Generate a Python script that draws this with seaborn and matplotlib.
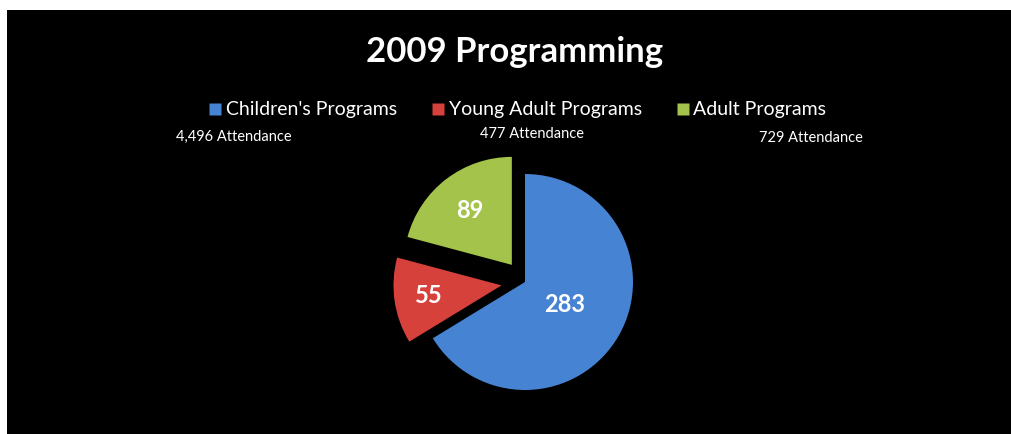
import matplotlib
matplotlib.use("Agg")
import matplotlib.pyplot as plt
from matplotlib.lines import Line2D
import numpy as np
import seaborn as sns

# ---- data ----
categories = ["Children's Programs", "Young Adult Programs", "Adult Programs"]
program_counts = [283, 55, 89]
attendance_labels = ["4,496 Attendance", "477 Attendance", "729 Attendance"]
title = "2009 Programming"

sns.set_style("white")
plt.rcParams['font.family'] = ['Lato', 'DejaVu Sans']

colors = sns.color_palette(["#4683D3", "#D6413C", "#A4C34A"])

W, H = 1011, 434
fig = plt.figure(figsize=(W / 100, H / 100), dpi=100)
fig.patch.set_facecolor("white")
bg = fig.add_axes([7 / W, 0, 1 - 7 / W, (H - 10) / H], zorder=-5)
bg.set_facecolor("black")
bg.set_xticks([])
bg.set_yticks([])
for s in bg.spines.values():
    s.set_visible(False)

# pie axes: center (525, 282 from top), radius 108px
cx, cy, r = 525, H - 282, 108
half = 1.3 * r
ax = fig.add_axes([(cx - half) / W, (cy - half) / H, 2 * half / W, 2 * half / H])
ax.set_facecolor("none")
wedges, _ = ax.pie(program_counts, colors=colors, startangle=90, counterclock=False,
                   explode=[0, 0.22, 0.2], radius=1.0,
                   wedgeprops=dict(edgecolor="none"))
ax.set_xlim(-1.3, 1.3)
ax.set_ylim(-1.3, 1.3)
ax.set_aspect("equal")
ax.axis("off")

label_dist = [0.42, 0.68, 0.64]
for w, v, d in zip(wedges, program_counts, label_dist):
    th = np.deg2rad((w.theta1 + w.theta2) / 2)
    x = w.center[0] + d * np.cos(th)
    y = w.center[1] + d * np.sin(th)
    ax.text(x, y, str(v), ha="center", va="center", color="white",
            fontsize=17, fontweight="bold")

fig.text(515 / W, 1 - 52 / H, title, ha="center", va="center", color="white",
         fontsize=25, fontweight="bold")

handles = [Line2D([0], [0], marker="s", linestyle="none", markersize=8,
                  markerfacecolor=c, markeredgecolor="none") for c in colors]
leg = fig.legend(handles, categories, loc="center", ncol=3,
                 bbox_to_anchor=(517 / W, 1 - 110 / H), frameon=False,
                 fontsize=14, handletextpad=0.15, columnspacing=1.7,
                 handlelength=0.8)
for t in leg.get_texts():
    t.set_color("white")

att_x = [234, 532, 811]
att_y = [137, 134, 138]
for x, y, s in zip(att_x, att_y, attendance_labels):
    fig.text(x / W, 1 - y / H, s, ha="center", va="center", color="white",
             fontsize=10.5)

fig.savefig("out.png", dpi=100, facecolor=fig.get_facecolor())
